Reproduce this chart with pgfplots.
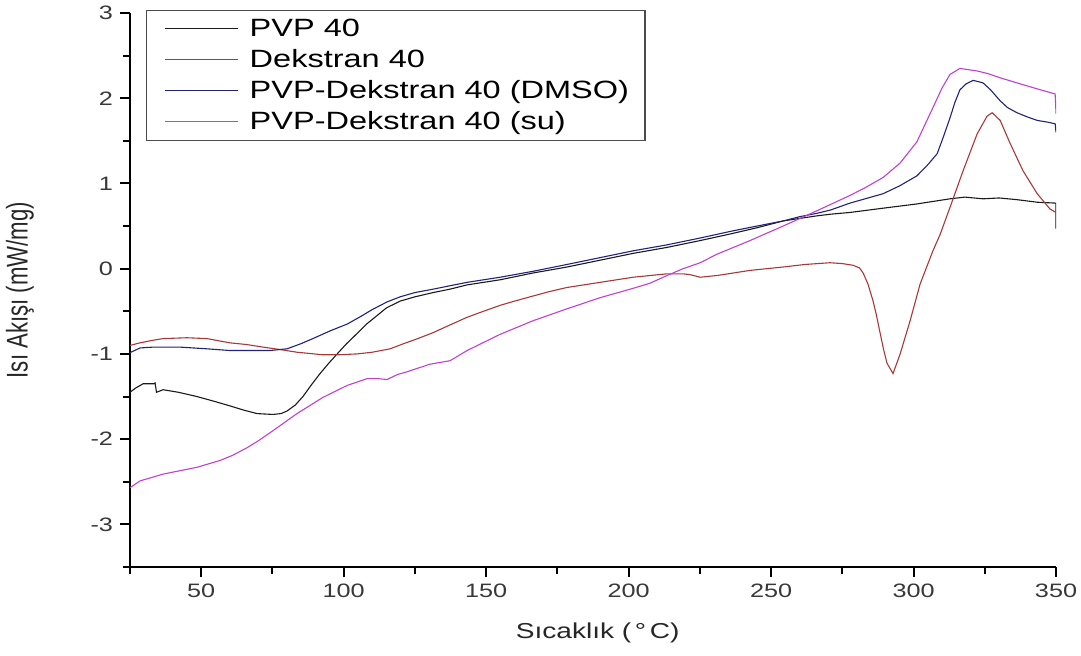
\documentclass[border=0pt]{standalone}
\usepackage{fontspec}
\setmainfont{Liberation Sans}
\newfontfamily\widefont[FakeStretch=1.3]{Liberation Sans}
\usepackage{pgfplots}
\pgfplotsset{compat=1.18}
\definecolor{cblack}{HTML}{1A1A1A}
\definecolor{cred}{HTML}{A83838}
\definecolor{cnavy}{HTML}{22227A}
\definecolor{cmag}{HTML}{C040D0}
\begin{document}
\begin{tikzpicture}
\path[use as bounding box] (-65pt,-44pt) rectangle (475.5pt,283.5pt);
\begin{axis}[
  at={(0,0)}, anchor=south west,
  scale only axis, width=463pt, height=277pt,
  xmin=25, xmax=350, ymin=-3.5, ymax=3,
  axis x line*=bottom, axis y line*=left,
  axis line style={line width=1pt, -},
  xtick={50,100,...,350}, minor xtick={25,75,...,325},
  ytick={-3,-2,...,3}, minor ytick={-3.5,-2.5,...,2.5},
  tick align=outside, major tick length=5pt, minor tick length=3.5pt,
  every tick/.style={black, line width=1pt},
  /pgf/number format/assume math mode=true,
  tick label style={font=\widefont\fontsize{9.7}{11}\selectfont, text=black!78},
  xlabel={Sıcaklık (\,°\,C)},
  ylabel={\scalebox{1}[1.35]{Isı Akışı (mW/mg)}},
  xlabel style={at={(rel axis cs:0.505,-0.1191)}, anchor=center, font=\widefont\fontsize{10.8}{13}\selectfont, text=black!85},
  ylabel style={at={(rel axis cs:-0.1188,0.5)}, anchor=center, font=\fontsize{11.1}{13}\selectfont, text=black!85},
  legend style={at={(rel axis cs:0.0173,1.0054)}, anchor=north west,
    draw=black!70, line width=0.6pt, font=\widefont\fontsize{12.5}{14}\selectfont,
    inner xsep=6pt, inner ysep=2pt, row sep=1pt, text=black},
  legend cell align=left,
  legend image code/.code={\path (0pt,0pt) (43pt,0pt); \draw[#1] (3pt,0pt) -- (39.5pt,0pt);},
  every axis plot/.append style={line width=0.55pt},
]
\addplot[cblack] coordinates {
(25,-1.45) (27,-1.40) (29.6,-1.35) (33.4,-1.35) (33.8,-1.34) (34.3,-1.45) (36.6,-1.42)
(42,-1.45) (48.5,-1.50) (55,-1.56) (60.1,-1.61) (65,-1.66) (69.6,-1.70) (75.2,-1.71)
(78,-1.70) (80.1,-1.67) (83,-1.60) (85.7,-1.50) (88.5,-1.37) (91.7,-1.23) (95,-1.10)
(97.7,-1.00) (101,-0.88) (104.7,-0.76) (108,-0.65) (111.7,-0.55) (115,-0.46) (119.8,-0.38)
(125,-0.33) (131.4,-0.28) (137.3,-0.24) (143.3,-0.19) (154.9,-0.13) (166.5,-0.05)
(178.4,0.02) (190,0.10) (201.6,0.18) (213.5,0.25) (225.1,0.33) (236,0.41) (245,0.48)
(254.2,0.56) (260,0.59) (266.1,0.62) (271,0.64) (277.7,0.66) (289.3,0.71) (301.2,0.76)
(312.8,0.82) (318,0.84) (324.4,0.82) (330,0.83) (336.3,0.81) (343.4,0.78) (349.7,0.77)
(350,0.77) (350,0.47)
};
\addlegendentry{PVP 40}
\addplot[cred] coordinates {
(25,-0.90) (28.5,-0.87) (33,-0.84) (36.6,-0.82) (45,-0.81) (52,-0.82) (60.1,-0.87)
(66,-0.89) (71.7,-0.92) (78,-0.95) (83.6,-0.98) (92.7,-1.01) (98,-1.01) (104.7,-1.00)
(110,-0.98) (116.3,-0.94) (121,-0.88) (126,-0.82) (131.4,-0.75) (137.3,-0.66)
(143.3,-0.57) (149,-0.50) (154.9,-0.43) (160,-0.38) (166.5,-0.32) (172,-0.27)
(178.4,-0.22) (190,-0.16) (201.6,-0.10) (207.5,-0.08) (213.5,-0.06) (219.1,-0.06)
(221.6,-0.07) (225.1,-0.10) (228,-0.09) (231,-0.08) (242.6,-0.02) (254.2,0.02)
(262,0.05) (270.7,0.07) (275,0.06) (278.8,0.04) (281,0.01) (282.3,-0.05) (284,-0.18)
(285.8,-0.38) (287,-0.55) (288.3,-0.76) (289.5,-0.95) (290.7,-1.11) (292.8,-1.23)
(295.3,-1.00) (298.8,-0.61) (302.3,-0.18) (306.8,0.21) (309.3,0.40) (312.8,0.72)
(317.4,1.15) (322.3,1.58) (325.8,1.79) (327.6,1.83) (330.4,1.74) (333.9,1.47)
(338.4,1.15) (343.4,0.88) (347.9,0.70) (350,0.66)
};
\addlegendentry{Dekstran 40}
\addplot[cnavy] coordinates {
(25,-0.985) (28.5,-0.93) (33,-0.92) (42.6,-0.92) (52,-0.94) (60.1,-0.96) (68,-0.96)
(74.1,-0.96) (80.1,-0.94) (85,-0.88) (89.2,-0.82) (95.2,-0.73) (101.2,-0.65) (106,-0.56)
(110,-0.48) (115.2,-0.39) (119.8,-0.33) (125,-0.28) (131.4,-0.24) (137.3,-0.20)
(143.3,-0.16) (154.9,-0.10) (166.5,-0.03) (178.4,0.05) (190,0.13) (201.6,0.21)
(213.5,0.28) (225.1,0.36) (236,0.44) (245,0.50) (254.2,0.56) (260,0.61) (266.1,0.65)
(271,0.69) (277.7,0.77) (283,0.82) (289.3,0.88) (295,0.97) (301.2,1.09) (305,1.22)
(308.3,1.35) (310.5,1.55) (312.8,1.77) (314.5,1.95) (316.3,2.10) (318.5,2.17)
(320.9,2.21) (324.4,2.18) (327,2.10) (330.4,1.97) (333,1.89) (336.3,1.83) (340,1.78)
(343.4,1.74) (347,1.72) (349.7,1.70) (350,1.60)
};
\addlegendentry{PVP-Dekstran 40 (DMSO)}
\addplot[cmag] coordinates {
(25,-2.57) (28.5,-2.49) (36.6,-2.41) (48.5,-2.33) (56.6,-2.25) (61,-2.19) (66.1,-2.10)
(70,-2.02) (75.2,-1.90) (83.6,-1.70) (92.7,-1.51) (101.2,-1.37) (108.2,-1.29) (112,-1.29)
(115.2,-1.30) (119,-1.24) (122.2,-1.21) (130.3,-1.12) (137.3,-1.08) (143.3,-0.96)
(154.9,-0.77) (166.5,-0.61) (178.4,-0.47) (190,-0.34) (201.6,-0.23) (207.5,-0.17)
(213.5,-0.08) (219.1,0.0) (225.1,0.07) (231,0.17) (242.6,0.33) (254.2,0.50) (266.1,0.68)
(277.7,0.86) (283,0.95) (289.3,1.07) (295.3,1.24) (301.2,1.49) (306.8,1.89) (310,2.12)
(312.8,2.28) (316.3,2.35) (322.3,2.32) (326,2.29) (330.4,2.24) (336.3,2.18) (343.4,2.11)
(349.7,2.05) (350,1.82)
};
\addlegendentry{PVP-Dekstran 40 (su)}
\end{axis}
\end{tikzpicture}
\end{document}
